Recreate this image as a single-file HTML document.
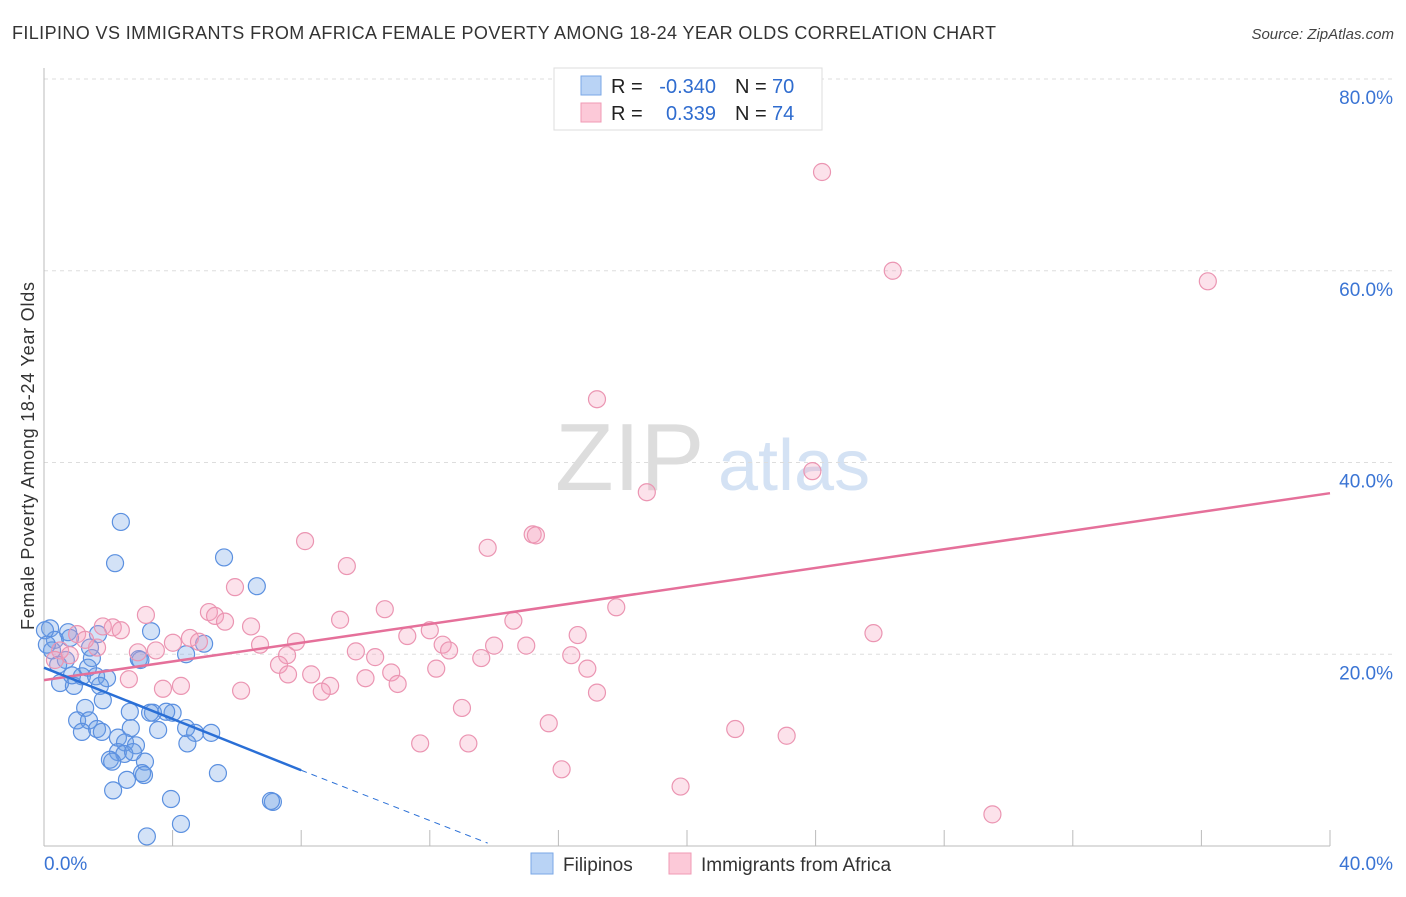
<!DOCTYPE html>
<html><head><meta charset="utf-8"><style>
body{margin:0;background:#fff;font-family:"Liberation Sans",sans-serif}
svg text{font-family:"Liberation Sans",sans-serif}
</style></head><body>
<svg id="c" width="1406" height="892" viewBox="0 0 1406 892" xmlns="http://www.w3.org/2000/svg">
<text x="12" y="39" font-size="18" fill="#333" textLength="984" lengthAdjust="spacing">FILIPINO VS IMMIGRANTS FROM AFRICA FEMALE POVERTY AMONG 18-24 YEAR OLDS CORRELATION CHART</text>
<text x="1394" y="39" font-size="15" fill="#444" text-anchor="end" font-style="italic">Source: ZipAtlas.com</text>
<g>
<text x="555" y="490" font-size="96" fill="#ddd" font-family="Liberation Serif,serif">ZIP</text>
<text x="718" y="490" font-size="72" fill="#d4e2f4">atlas</text></g>
<g id="grid"></g><g id="axes"></g><g id="pts"></g><g id="trend"></g>
<text transform="translate(34,456) rotate(-90)" font-size="18" fill="#333" text-anchor="middle" textLength="348" lengthAdjust="spacing">Female Poverty Among 18-24 Year Olds</text>
<g>
<rect x="554" y="68" width="268" height="62" fill="#fff" stroke="#ddd"/>
<rect x="581" y="76" width="20" height="19" fill="#b9d3f5" stroke="#7aa7e6"/>
<rect x="581" y="103" width="20" height="19" fill="#fcc9d8" stroke="#f09ab5"/>
<text x="611" y="93" font-size="20" fill="#222">R =</text>
<text x="716" y="93" font-size="20" fill="#2f6ccf" text-anchor="end">-0.340</text>
<text x="735" y="93" font-size="20" fill="#222">N =</text>
<text x="772" y="93" font-size="20" fill="#2f6ccf">70</text>
<text x="611" y="120" font-size="20" fill="#222">R =</text>
<text x="716" y="120" font-size="20" fill="#2f6ccf" text-anchor="end">0.339</text>
<text x="735" y="120" font-size="20" fill="#222">N =</text>
<text x="772" y="120" font-size="20" fill="#2f6ccf">74</text>
</g>
<g>
<rect x="531" y="853" width="22" height="21" fill="#b9d3f5" stroke="#7aa7e6"/>
<text x="563" y="871" font-size="19" fill="#333">Filipinos</text>
<rect x="669" y="853" width="22" height="21" fill="#fcc9d8" stroke="#f09ab5"/>
<text x="701" y="871" font-size="19" fill="#333">Immigrants from Africa</text>
</g>
</svg>
<script>
const blueX=[2.39,2.21,5.6,6.62,3.33,4.42,4.98,2.95,1.68,0.19,0.75,0.34,0.81,0.25,0.68,1.43,1.49,1.37,1.18,0.5,0.93,1.62,1.96,1.74,1.83,1.28,1.03,1.4,1.18,1.65,1.8,2.67,3.39,3.3,4.0,3.8,2.7,3.55,4.42,4.7,5.2,4.46,2.3,2.52,2.86,2.3,2.5,2.77,2.05,2.12,3.14,3.05,3.11,2.58,2.15,5.41,3.95,7.12,7.06,4.26,3.2,0.03,0.09,0.44,0.87,3.0];
const blueY=[33.8,29.5,30.1,27.1,22.4,20.0,21.1,19.5,22.1,22.7,22.3,21.5,21.7,20.4,19.4,20.7,19.6,18.6,17.7,17.0,16.7,17.7,17.5,16.7,15.2,14.4,13.1,13.1,11.9,12.2,11.9,14.0,13.9,13.9,13.9,14.0,12.3,12.1,12.3,11.8,11.8,10.7,11.3,10.8,10.5,9.8,9.6,9.8,9.0,8.8,8.8,7.6,7.4,6.9,5.8,7.6,4.9,4.6,4.7,2.3,1.0,22.5,21.0,18.9,17.8,19.4];
const pinkX=[24.2,26.4,36.2,17.2,23.9,18.75,15.2,15.3,13.8,8.12,9.42,5.94,17.8,10.6,5.13,3.17,5.32,5.63,6.44,9.21,14.6,12.0,11.3,16.6,25.8,1.83,2.14,2.39,1.03,4.01,4.54,4.82,7.84,6.72,12.4,14.0,15.0,12.6,1.65,2.92,3.48,9.7,10.3,16.4,7.56,13.6,7.31,16.9,10.8,12.2,8.31,7.59,10.0,2.64,11.0,4.26,8.9,3.7,8.64,6.13,17.2,13.0,15.7,21.5,23.1,11.7,13.2,16.1,19.8,29.5,0.5,1.28,0.34,0.8];
const pinkY=[70.3,60.0,58.9,46.6,39.1,36.9,32.5,32.4,31.1,31.8,29.2,27.0,24.9,24.7,24.4,24.1,24.0,23.4,22.9,23.6,23.5,22.5,21.9,22.0,22.2,22.9,22.8,22.5,22.1,21.2,21.7,21.3,21.3,21.0,21.0,20.9,20.9,20.4,20.7,20.2,20.4,20.3,19.7,19.9,19.9,19.6,18.9,18.5,18.1,18.5,17.9,17.9,17.5,17.4,16.9,16.7,16.7,16.4,16.1,16.2,16.0,14.4,12.8,12.2,11.5,10.7,10.7,8.0,6.2,3.3,20.4,21.5,19.4,19.9];
const yTicks=[20,40,60,80];
const yTickLabels=["20.0%","40.0%","60.0%","80.0%"];
const blueTrend=[[0,18.6],[8.0,7.9]];
const blueTrendDash=[[8.0,7.9],[13.8,0.3]];
const pinkTrend=[[0,17.3],[40,36.8]];
const X=v=>44+v/40*1286, Y=v=>846-v/20*191.75;
const NS="http://www.w3.org/2000/svg";
function mk(p,t,a){const e=document.createElementNS(NS,t);for(const k in a)e.setAttribute(k,a[k]);p.appendChild(e);return e;}
const grid=document.getElementById('grid'),axes=document.getElementById('axes'),pts=document.getElementById('pts'),tr=document.getElementById('trend');
yTicks.forEach((t,i)=>{const l=mk(grid,'line',{x1:44,x2:1395,y1:Y(t),y2:Y(t),stroke:'#ddd','stroke-dasharray':'4,4'});


const tx=mk(grid,'text',{x:1393,y:Y(t)+25,'font-size':19,fill:'#3a74d4','text-anchor':'end'});tx.textContent=yTickLabels[i];

});
mk(axes,'line',{x1:44,x2:44,y1:68,y2:846,stroke:'#bbb'});
mk(axes,'line',{x1:44,x2:1330,y1:846,y2:846,stroke:'#bbb'});
for(let v=4;v<=40;v+=4){const t=mk(axes,'line',{x1:X(v),x2:X(v),y1:830,y2:846,stroke:'#bbb'});

}
[[0,"0.0%",'start',44],[40,"40.0%",'end',1393]].forEach(a=>{const t=mk(axes,'text',{x:a[3],y:870,'font-size':19,fill:'#3a74d4','text-anchor':a[2]});t.textContent=a[1];

});
blueX.forEach((x,i)=>{const c=mk(pts,'circle',{cx:X(x),cy:Y(blueY[i]),r:8.5,fill:'rgba(110,160,230,0.3)',stroke:'#5b90e0','stroke-width':1.2});

});
pinkX.forEach((x,i)=>{const c=mk(pts,'circle',{cx:X(x),cy:Y(pinkY[i]),r:8.5,fill:'rgba(245,160,190,0.3)',stroke:'#eb95b2','stroke-width':1.2});

});
function ln(d,col,w,dash,name){const l=mk(tr,'line',{x1:X(d[0][0]),y1:Y(d[0][1]),x2:X(d[1][0]),y2:Y(d[1][1]),stroke:col,'stroke-width':w});if(dash)l.setAttribute('stroke-dasharray',dash);

}
ln(pinkTrend,'#e5709a',2.5,null,'africa-trend-line');
ln(blueTrend,'#2a6fd6',2.5,null,'filipino-trend-line');
ln(blueTrendDash,'#2a6fd6',1,'6,5','filipino-trend-extension');
</script>
</body></html>
